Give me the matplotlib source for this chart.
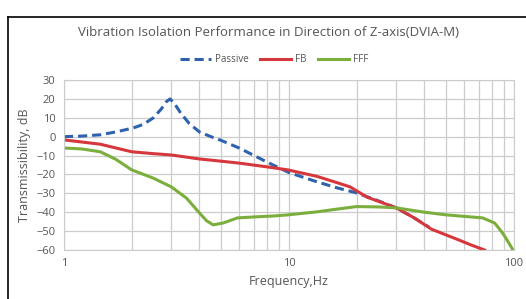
import matplotlib
matplotlib.use("Agg")
import matplotlib.pyplot as plt
from matplotlib.lines import Line2D

# Frequency (Hz) / transmissibility (dB)
passive_f = [1.0, 1.2, 1.45, 1.7, 2.03, 2.25, 2.49, 2.7, 2.85, 2.96, 3.1, 3.3, 3.6, 4.0, 4.5, 5.0, 6.0, 7.0, 8.0, 10.0, 13.0, 16.0, 20.0, 25.0, 30.0, 36.0, 42.0]
passive_db = [0.0, 0.3, 1.0, 2.5, 4.6, 6.5, 9.9, 14.5, 18.5, 20.0, 17.5, 12.5, 7.0, 2.5, 0.0, -2.0, -6.0, -10.0, -13.5, -19.0, -23.5, -26.8, -29.8, -34.0, -37.7, -43.0, -48.0]

fb_f = [1.0, 1.45, 2.0, 2.5, 3.0, 4.0, 5.0, 6.0, 8.0, 9.9, 13.3, 16.0, 18.7, 22.2, 26.0, 30.0, 36.0, 43.0, 55.0, 65.0, 74.0]
fb_db = [-1.7, -4.0, -8.0, -9.0, -9.7, -11.8, -13.0, -14.0, -16.0, -17.6, -21.0, -24.0, -26.6, -32.0, -35.0, -37.7, -43.0, -49.0, -54.0, -57.5, -60.0]

fff_f = [1.0, 1.2, 1.45, 1.7, 2.0, 2.5, 3.0, 3.5, 4.0, 4.3, 4.6, 5.1, 5.9, 7.0, 8.5, 9.9, 13.3, 16.0, 20.0, 25.0, 30.0, 40.0, 50.0, 60.0, 72.5, 82.0, 89.0, 94.0, 99.0]
fff_db = [-6.0, -6.5, -8.0, -12.0, -17.6, -22.0, -26.6, -32.5, -40.4, -44.5, -46.7, -45.7, -43.0, -42.5, -42.0, -41.4, -39.8, -38.5, -37.0, -37.2, -37.7, -40.0, -41.4, -42.2, -43.0, -45.7, -51.0, -55.5, -60.0]

yticks = list(range(-60, 31, 10))
xticks = [1, 10, 100]

txt = "#555555"
plt.rcParams["font.family"] = ["Open Sans", "DejaVu Sans"]

fig = plt.figure(figsize=(5.26, 2.99), dpi=100)
ax = fig.add_axes([64 / 526, 49 / 299, 450 / 526, 170 / 299])

ax.plot(passive_f, passive_db, color="#2f62ad", lw=2.2, ls=(0, (3, 1.6)), label="Passive")
ax.plot(fb_f, fb_db, color="#d6373c", lw=2.2, label="FB")
ax.plot(fff_f, fff_db, color="#7cae3e", lw=2.2, label="FFF")

ax.set_xscale("log")
ax.set_xlim(1, 100)
ax.set_ylim(-60, 30)
ax.set_yticks(yticks)
ax.set_xticks(xticks)
ax.set_xticklabels([str(v) for v in xticks])
ax.minorticks_on()
ax.yaxis.set_minor_locator(matplotlib.ticker.NullLocator())
ax.xaxis.set_minor_formatter(matplotlib.ticker.NullFormatter())
ax.grid(which="both", axis="x", color="#cccccc", lw=0.9)
ax.grid(which="major", axis="y", color="#cccccc", lw=0.9)
ax.tick_params(which="both", length=0, labelsize=8, colors=txt, pad=6)
for s in ax.spines.values():
    s.set_color("#cccccc")

ax.set_xlabel("Frequency,Hz", color=txt, fontsize=9)
ax.set_ylabel("Transmissibility, dB", color=txt, fontsize=9, labelpad=4)
fig.text(268 / 526, 1 - 33 / 299, "Vibration Isolation Performance in Direction of Z-axis(DVIA-M)",
         ha="center", va="center", color=txt, fontsize=9.5)
fig.legend(loc="center", bbox_to_anchor=(274 / 526, 1 - 60 / 299), ncol=3, frameon=False,
           fontsize=7, labelcolor=txt, handlelength=3.2, columnspacing=1.2, handletextpad=0.4)

# outer frame of the original picture
fig.add_artist(Line2D([8 / 526, 8 / 526], [0, 1 - 17 / 299], transform=fig.transFigure, color="black", lw=1.2))
fig.add_artist(Line2D([8 / 526, 1], [1 - 17 / 299, 1 - 17 / 299], transform=fig.transFigure, color="black", lw=1.2))

fig.savefig("out.png", dpi=100)
